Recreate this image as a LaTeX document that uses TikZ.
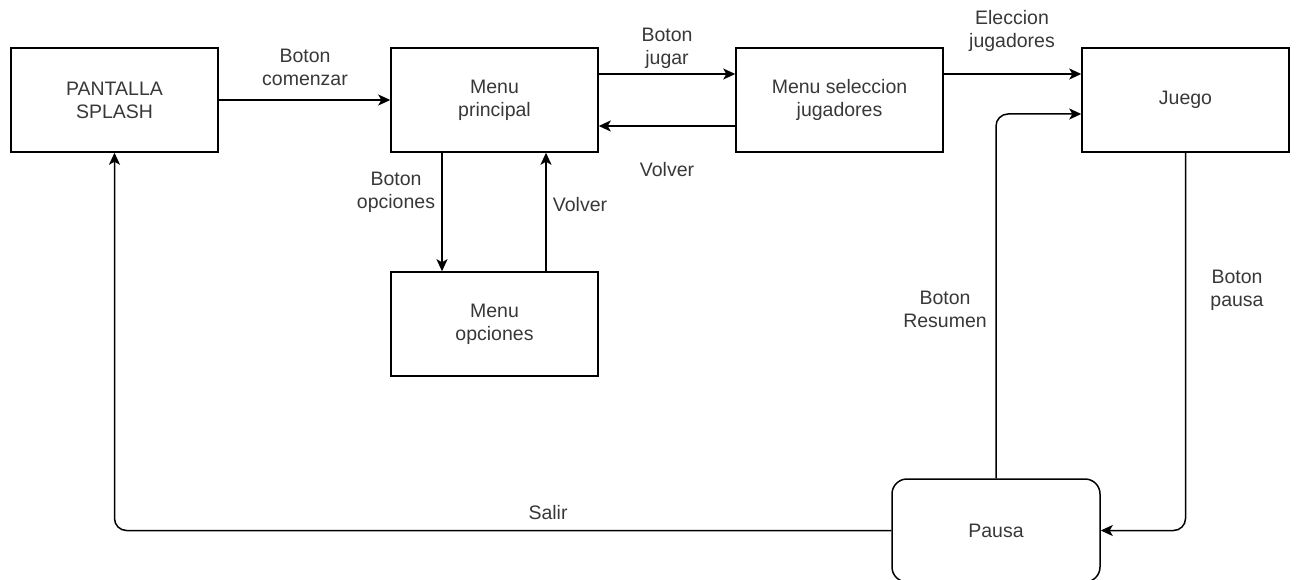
\documentclass[tikz,border=0pt]{standalone}
\usepackage{fontspec}
\setmainfont{Liberation Sans}
\usetikzlibrary{arrows.meta}
\definecolor{txt}{RGB}{56,56,56}
\begin{document}
\begin{tikzpicture}[x=1pt,y=-1pt,
  every node/.style={font=\fontsize{19.5pt}{23pt}\selectfont, text=txt, align=center},
  box/.style={draw=black, line width=1.5pt, minimum width=207pt, minimum height=104pt, inner sep=0pt},
  roundbox/.style={box, rounded corners=15pt},
  lbl/.style={inner sep=0pt},
  link/.style={draw=black, line width=1.5pt, -{Stealth[length=12pt,width=11pt,inset=3pt]}, rounded corners=12pt}]
\useasboundingbox (0,0) rectangle (1297,580);
\begin{scope}
\clip (0,0) rectangle (1297,580);
% screens
\node[box] (splash) at (114.5,100) {PANTALLA\\SPLASH};
\node[box] (main) at (494.5,100) {Menu\\principal};
\node[box] (sel) at (839.5,100) {Menu seleccion\\jugadores};
\node[box] (juego) at (1185.5,100) {Juego};
\node[box] (opc) at (494.5,324) {Menu\\opciones};
\node[roundbox, minimum width=208pt, minimum height=103pt] (pausa) at (996,530.5) {Pausa};
\end{scope}

% transitions
\draw[link] (splash.east) -- (main.west);
\draw[link] ([yshift=26pt]main.east) -- ([yshift=26pt]sel.west);
\draw[link] ([yshift=-26pt]sel.west) -- ([yshift=-26pt]main.east);
\draw[link] ([yshift=26pt]sel.east) -- ([yshift=26pt]juego.west);
\draw[link] ([xshift=-52.5pt]main.south) -- ([xshift=-52.5pt]opc.north);
\draw[link] ([xshift=51.5pt]opc.north) -- ([xshift=51.5pt]main.south);
\draw[link] (pausa.north) |- ([yshift=-14pt]juego.west);
\draw[link] (juego.south) |- (pausa.east);
\draw[link] (pausa.west) -| (splash.south);

% labels
\node[lbl] (lcom) at (305,67) {Boton\\comenzar};
\node[lbl] (ljug) at (667,48) {Boton\\jugar};
\node[lbl] (lvol1) at (667,170) {Volver};
\node[lbl] (lele) at (1012,31) {Eleccion\\jugadores};
\node[lbl] (lopc) at (396,192) {Boton\\opciones};
\node[lbl] (lvol2) at (580,205) {Volver};
\node[lbl] (lres) at (945,309) {Boton\\Resumen};
\node[lbl] (lpau) at (1237,290) {Boton\\pausa};
\node[lbl] (lsal) at (548,513) {Salir};
\end{tikzpicture}
\end{document}
